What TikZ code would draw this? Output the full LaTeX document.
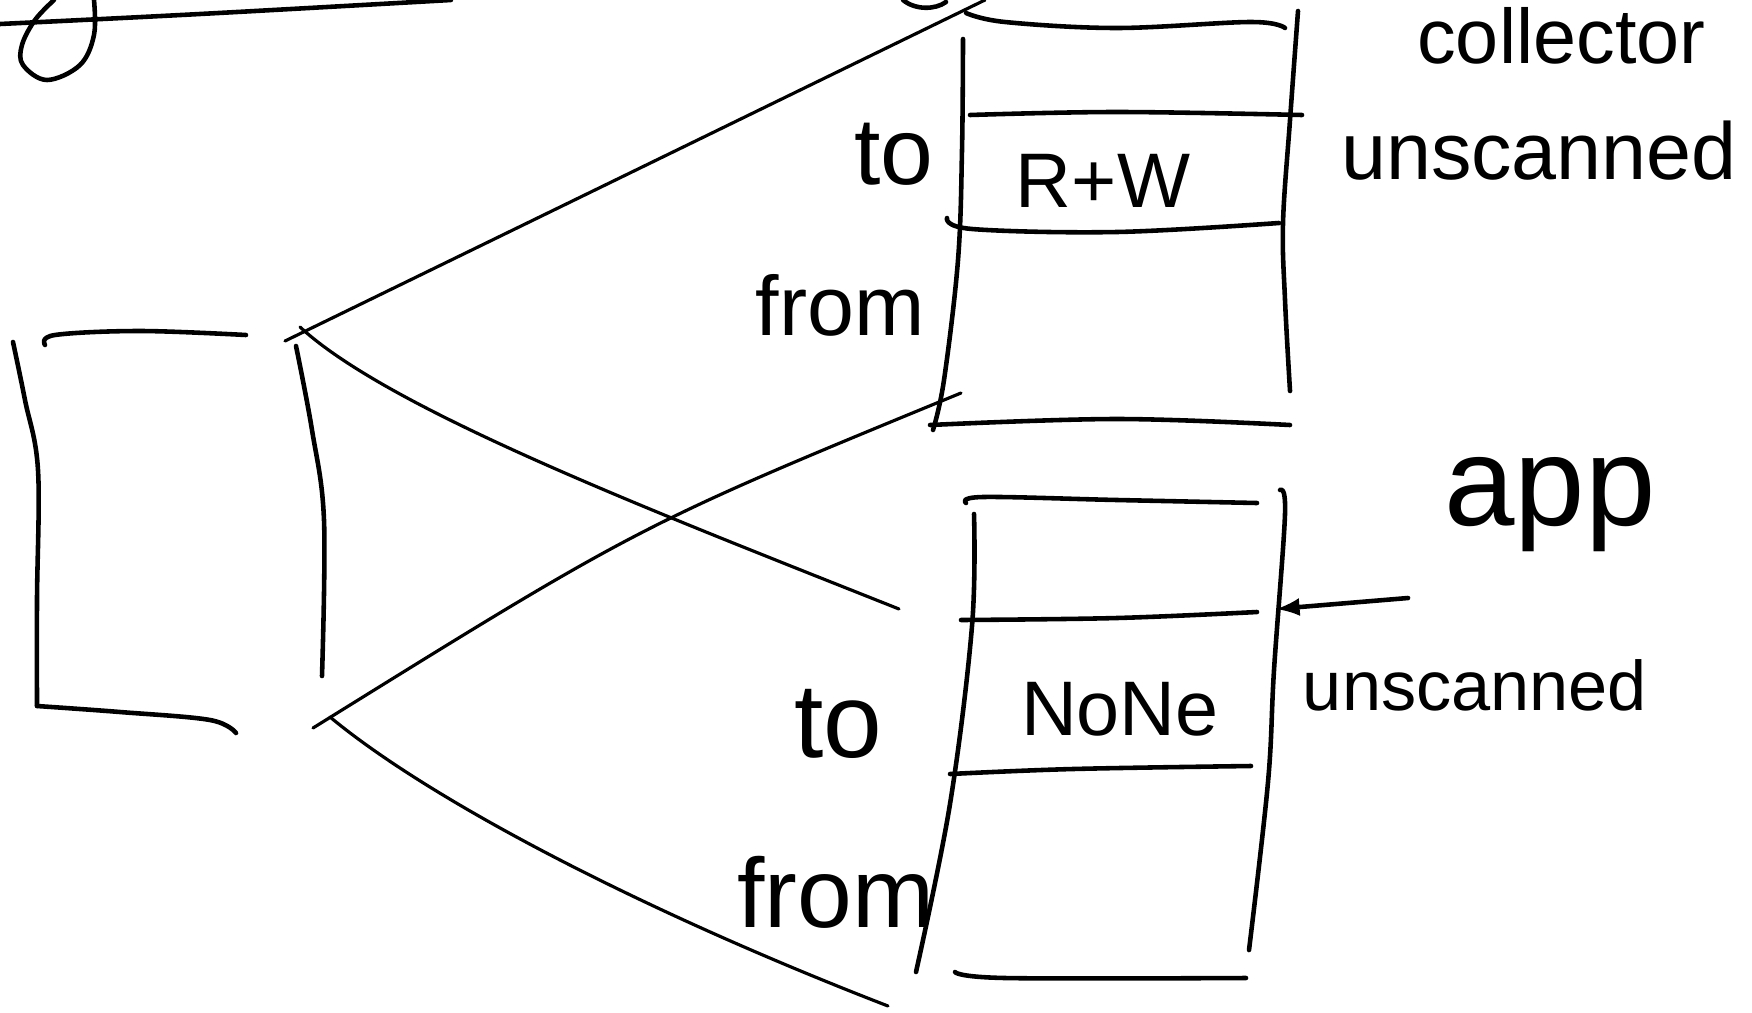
\documentclass[tikz,border=0pt]{standalone}
\usepackage{fontspec}
\setmainfont{Liberation Sans}
\begin{document}
\begin{tikzpicture}[
x=0.01cm, y=-0.01cm,
line width=1.3pt, line cap=round, line join=round,
every node/.style={
inner sep=0pt,
anchor=base,
font=\fontsize{22}{26}\selectfont
},
sketch/.style={smooth, tension=0.6},
wire/.style={line width=0.9pt}
]

\useasboundingbox (0,0) rectangle (1752,1012);

\draw plot[sketch] coordinates {(0,24) (200,14) (451,0)};
\draw plot[sketch] coordinates {(54,0) (35,20) (22,45) (23,65) (47,80) (80,65) (94,35) (94,0)};
\draw (903,0) .. controls (915,10) and (935,10) .. (946,2);

\draw plot[sketch] coordinates {(45,345) (55,335) (140,331) (246,335)};
\draw plot[sketch] coordinates {(13,342) (25,400) (38,470) (37,600) (37,706)};
\draw plot[sketch] coordinates {(37,706) (120,712) (210,720) (236,733)};
\draw plot[sketch] coordinates {(296,346) (312,430) (324,520) (322,676)};

\draw plot[sketch] coordinates {(966,13) (1005,22) (1117,28) (1251,22) (1285,28)};
\draw plot[sketch] coordinates {(963,39) (962,150) (958,260) (944,380) (933,430)};
\draw plot[sketch] coordinates {(1298,11) (1290,120) (1283,223) (1285,300) (1290,391)};
\draw plot[sketch] coordinates {(970,115) (1117,112) (1302,115)};
\draw plot[sketch] coordinates {(947,218) (972,229) (1117,232) (1279,223)};
\draw plot[sketch] coordinates {(930,425) (1117,419) (1290,425)};

\draw plot[sketch] coordinates {(966,503) (983,497) (1117,500) (1257,503)};
\draw plot[sketch] coordinates {(974,514) (972,626) (950,804) (916,972)};
\draw plot[sketch] coordinates {(1280,490) (1285,514) (1274,670) (1268,782) (1249,950)};
\draw plot[sketch] coordinates {(961,620) (1117,618) (1257,612)};
\draw plot[sketch] coordinates {(950,774) (1073,769) (1251,766)};
\draw plot[sketch] coordinates {(955,972) (1005,978) (1246,978)};

\coordinate (bufA) at (285,341);
\coordinate (bufB) at (300,327);
\coordinate (bufC) at (313,728);
\coordinate (bufD) at (330,717);
\coordinate (upTop) at (985,0);
\coordinate (upBot) at (961,393);
\coordinate (lowMid) at (899,609);
\coordinate (lowEnd) at (888,1006);
\coordinate (arrS) at (1408,598);
\coordinate (arrE) at (1276,609);

\draw[wire] (bufA) -- (upTop);
\draw[wire] (bufB) .. controls (390,410) and (650,510) .. (lowMid);
\draw[wire] (bufC) .. controls (640,525) .. (upBot);
\draw[wire] (bufD) .. controls (430,800) and (640,910) .. (lowEnd);
\draw[-latex] (arrS) -- (arrE);

\node[font=\fontsize{27}{31}\selectfont] (toA) at (894,184) {to};
\node (rw) at (1103,207) {R+W};
\node[font=\fontsize{24}{28}\selectfont] (fromA) at (840,335) {from};
\node[font=\fontsize{23}{27}\selectfont] (unscA) at (1539,179) {unscanned};
\node[anchor=base west, font=\fontsize{22}{26}\selectfont] (coll) at (1415,64) {collector};

\node[font=\fontsize{36}{40}\selectfont] (app) at (1550,525) {app};
\node (none) at (1120,735) {NoNe};
\node[font=\fontsize{30}{34}\selectfont] (toB) at (838,757) {to};
\node[font=\fontsize{28}{32}\selectfont] (fromB) at (836,927) {from};
\node[font=\fontsize{20}{24}\selectfont] (unscB) at (1475,710) {unscanned};

\end{tikzpicture}
\end{document}
